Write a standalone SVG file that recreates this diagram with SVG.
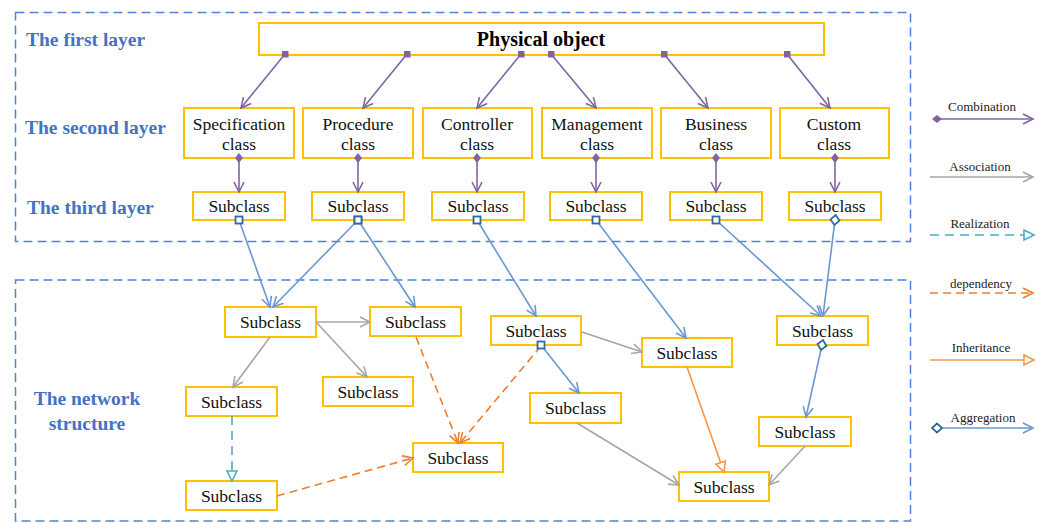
<svg xmlns="http://www.w3.org/2000/svg" width="1042" height="523" viewBox="0 0 1042 523">
  <style>
    .frame { fill: none; stroke: #4A84E0; stroke-width: 1.5; stroke-dasharray: 9 5; }
    .layer { font-family: "Liberation Serif", "Times New Roman", Times, serif; font-weight: bold; font-size: 19.5px; fill: #4472C4; }
    .box { fill: #fff; stroke: #FFC000; stroke-width: 2; }
    .txt { font-family: "Liberation Serif", "Times New Roman", Times, serif; font-size: 17.5px; fill: #111; text-anchor: middle; }
    .title { font-family: "Liberation Serif", "Times New Roman", Times, serif; font-size: 20px; font-weight: bold; fill: #000; text-anchor: middle; }
    .leg { font-family: "Liberation Serif", "Times New Roman", Times, serif; font-size: 13px; fill: #222; text-anchor: middle; }
    .comb { fill: none; stroke: #8064A2; stroke-width: 1.6; }
    .aggr { fill: none; stroke: #6A97D2; stroke-width: 1.6; }
    .assoc { fill: none; stroke: #A6A6A6; stroke-width: 1.6; }
    .real { fill: none; stroke: #4BACC6; stroke-width: 1.6; stroke-dasharray: 9 6; }
    .dep { fill: none; stroke: #ED7D31; stroke-width: 1.6; stroke-dasharray: 8 5; }
    .inh { fill: none; stroke: #F79646; stroke-width: 1.6; }
  </style>
  <defs>
    <marker id="vPurple" markerUnits="userSpaceOnUse" markerWidth="14" markerHeight="14" refX="11" refY="6" orient="auto">
      <path d="M1,1 L11,6 L1,11" fill="none" stroke="#8064A2" stroke-width="1.6"/>
    </marker>
    <marker id="sqPurple" markerUnits="userSpaceOnUse" markerWidth="10" markerHeight="10" refX="3.5" refY="3.5" orient="0">
      <rect x="0" y="0" width="7" height="7" fill="#8064A2"/>
    </marker>
    <marker id="diaPurple" markerUnits="userSpaceOnUse" markerWidth="12" markerHeight="12" refX="5" refY="4" orient="auto">
      <path d="M0,4 L5,0 L10,4 L5,8 Z" fill="#8064A2"/>
    </marker>
    <marker id="vBlue" markerUnits="userSpaceOnUse" markerWidth="14" markerHeight="14" refX="11" refY="6" orient="auto">
      <path d="M1,1 L11,6 L1,11" fill="none" stroke="#6A97D2" stroke-width="1.6"/>
    </marker>
    <marker id="sqBlue" markerUnits="userSpaceOnUse" markerWidth="12" markerHeight="12" refX="5" refY="5" orient="0">
      <rect x="1.5" y="1.5" width="7" height="7" fill="#fff" stroke="#2F6A9E" stroke-width="1.8"/>
    </marker>
    <marker id="diaBlue" markerUnits="userSpaceOnUse" markerWidth="14" markerHeight="14" refX="6" refY="6" orient="auto">
      <path d="M1,6 L6,1.5 L11,6 L6,10.5 Z" fill="#fff" stroke="#2F6A9E" stroke-width="1.8"/>
    </marker>
    <marker id="vGray" markerUnits="userSpaceOnUse" markerWidth="14" markerHeight="14" refX="11" refY="6" orient="auto">
      <path d="M1,1 L11,6 L1,11" fill="none" stroke="#A6A6A6" stroke-width="1.6"/>
    </marker>
    <marker id="triCyan" markerUnits="userSpaceOnUse" markerWidth="14" markerHeight="14" refX="11" refY="6" orient="auto">
      <path d="M1,1 L11,6 L1,11 Z" fill="#fff" stroke="#4BACC6" stroke-width="1.6"/>
    </marker>
    <marker id="vOrange" markerUnits="userSpaceOnUse" markerWidth="14" markerHeight="14" refX="11" refY="6" orient="auto">
      <path d="M1,1 L11,6 L1,11" fill="none" stroke="#ED7D31" stroke-width="1.6"/>
    </marker>
    <marker id="triOrange" markerUnits="userSpaceOnUse" markerWidth="14" markerHeight="14" refX="11" refY="6" orient="auto">
      <path d="M1,1 L11,6 L1,11 Z" fill="#fff" stroke="#F79646" stroke-width="1.6"/>
    </marker>
  </defs>

  <rect width="1042" height="523" fill="#fff"/>

  <!-- layer frames -->
  <g id="frames">
    <rect class="frame" x="15.5" y="12.5" width="895" height="229"/>
    <rect class="frame" x="15.5" y="280" width="895" height="241"/>
  </g>

  <!-- layer captions -->
  <g id="captions">
    <text class="layer" x="26" y="46">The first layer</text>
    <text class="layer" x="25" y="134">The second layer</text>
    <text class="layer" x="27" y="214">The third layer</text>
    <text class="layer" x="87" y="405" text-anchor="middle">The network</text>
    <text class="layer" x="87" y="430" text-anchor="middle">structure</text>
  </g>

  <!-- first layer -->
  <g id="physical">
    <rect class="box" x="259" y="23" width="565" height="32"/>
    <text class="title" x="541" y="46">Physical object</text>
  </g>

  <!-- second layer -->
  <g id="specification">
    <rect class="box" x="184" y="108" width="110" height="50"/>
    <text class="txt" x="239" y="130">Specification</text>
    <text class="txt" x="239" y="150">class</text>
  </g>
  <g id="procedure">
    <rect class="box" x="303" y="108" width="110" height="50"/>
    <text class="txt" x="358" y="130">Procedure</text>
    <text class="txt" x="358" y="150">class</text>
  </g>
  <g id="controller">
    <rect class="box" x="423" y="108" width="109" height="50"/>
    <text class="txt" x="477" y="130">Controller</text>
    <text class="txt" x="477" y="150">class</text>
  </g>
  <g id="management">
    <rect class="box" x="542" y="108" width="110" height="50"/>
    <text class="txt" x="597" y="130">Management</text>
    <text class="txt" x="597" y="150">class</text>
  </g>
  <g id="business">
    <rect class="box" x="661" y="108" width="110" height="50"/>
    <text class="txt" x="716" y="130">Business</text>
    <text class="txt" x="716" y="150">class</text>
  </g>
  <g id="custom">
    <rect class="box" x="780" y="108" width="109" height="50"/>
    <text class="txt" x="834" y="130">Custom</text>
    <text class="txt" x="834" y="150">class</text>
  </g>

  <!-- third layer -->
  <g id="sub-specification">
    <rect class="box" x="193" y="192" width="92" height="28"/>
    <text class="txt" x="239" y="212">Subclass</text>
  </g>
  <g id="sub-procedure">
    <rect class="box" x="312" y="192" width="92" height="28"/>
    <text class="txt" x="358" y="212">Subclass</text>
  </g>
  <g id="sub-controller">
    <rect class="box" x="432" y="192" width="92" height="28"/>
    <text class="txt" x="478" y="212">Subclass</text>
  </g>
  <g id="sub-management">
    <rect class="box" x="550" y="192" width="92" height="28"/>
    <text class="txt" x="596" y="212">Subclass</text>
  </g>
  <g id="sub-business">
    <rect class="box" x="670" y="192" width="92" height="28"/>
    <text class="txt" x="716" y="212">Subclass</text>
  </g>
  <g id="sub-custom">
    <rect class="box" x="789" y="192" width="92" height="28"/>
    <text class="txt" x="835" y="212">Subclass</text>
  </g>

  <!-- network structure -->
  <g id="net-1">
    <rect class="box" x="225" y="307" width="91" height="30"/>
    <text class="txt" x="270.5" y="328">Subclass</text>
  </g>
  <g id="net-2">
    <rect class="box" x="370" y="307" width="91" height="29"/>
    <text class="txt" x="415.5" y="328">Subclass</text>
  </g>
  <g id="net-3">
    <rect class="box" x="323" y="377" width="90" height="29"/>
    <text class="txt" x="368" y="398">Subclass</text>
  </g>
  <g id="net-4">
    <rect class="box" x="186" y="387" width="91" height="29"/>
    <text class="txt" x="231.5" y="408">Subclass</text>
  </g>
  <g id="net-5">
    <rect class="box" x="186" y="481" width="91" height="29"/>
    <text class="txt" x="231.5" y="502">Subclass</text>
  </g>
  <g id="net-6">
    <rect class="box" x="413" y="443" width="90" height="29"/>
    <text class="txt" x="458" y="464">Subclass</text>
  </g>
  <g id="net-7">
    <rect class="box" x="491" y="316" width="90" height="29"/>
    <text class="txt" x="536" y="337">Subclass</text>
  </g>
  <g id="net-8">
    <rect class="box" x="642" y="338" width="90" height="29"/>
    <text class="txt" x="687" y="359">Subclass</text>
  </g>
  <g id="net-9">
    <rect class="box" x="777" y="316" width="91" height="29"/>
    <text class="txt" x="822.5" y="337">Subclass</text>
  </g>
  <g id="net-10">
    <rect class="box" x="530" y="393" width="91" height="30"/>
    <text class="txt" x="575.5" y="414">Subclass</text>
  </g>
  <g id="net-11">
    <rect class="box" x="759" y="417" width="92" height="29"/>
    <text class="txt" x="805" y="438">Subclass</text>
  </g>
  <g id="net-12">
    <rect class="box" x="679" y="472" width="90" height="29"/>
    <text class="txt" x="724" y="493">Subclass</text>
  </g>

  <!-- connectors, drawn after the boxes so end symbols sit on the box edges -->
  <g id="connectors">
    <!-- first layer to second layer -->
    <path class="comb" d="M285,54 L241,108" marker-start="url(#sqPurple)" marker-end="url(#vPurple)"/>
    <path class="comb" d="M407,54 L363,108" marker-start="url(#sqPurple)" marker-end="url(#vPurple)"/>
    <path class="comb" d="M521,54 L477,108" marker-start="url(#sqPurple)" marker-end="url(#vPurple)"/>
    <path class="comb" d="M551,54 L596,108" marker-start="url(#sqPurple)" marker-end="url(#vPurple)"/>
    <path class="comb" d="M664,54 L708,108" marker-start="url(#sqPurple)" marker-end="url(#vPurple)"/>
    <path class="comb" d="M787,54 L830,108" marker-start="url(#sqPurple)" marker-end="url(#vPurple)"/>
    <!-- second layer to third layer -->
    <path class="comb" d="M239,158 L239,192" marker-start="url(#diaPurple)" marker-end="url(#vPurple)"/>
    <path class="comb" d="M358,158 L358,192" marker-start="url(#diaPurple)" marker-end="url(#vPurple)"/>
    <path class="comb" d="M477,158 L477,192" marker-start="url(#diaPurple)" marker-end="url(#vPurple)"/>
    <path class="comb" d="M596,158 L596,192" marker-start="url(#diaPurple)" marker-end="url(#vPurple)"/>
    <path class="comb" d="M716,158 L716,192" marker-start="url(#diaPurple)" marker-end="url(#vPurple)"/>
    <path class="comb" d="M835,158 L835,192" marker-start="url(#diaPurple)" marker-end="url(#vPurple)"/>
    <!-- third layer to network -->
    <path class="aggr" d="M239,220 L270,307" marker-start="url(#sqBlue)" marker-end="url(#vBlue)"/>
    <path class="aggr" d="M358,220 L273,307" marker-start="url(#sqBlue)" marker-end="url(#vBlue)"/>
    <path class="aggr" d="M358,220 L415,307" marker-start="url(#sqBlue)" marker-end="url(#vBlue)"/>
    <path class="aggr" d="M477,220 L536,316" marker-start="url(#sqBlue)" marker-end="url(#vBlue)"/>
    <path class="aggr" d="M596,220 L686,338" marker-start="url(#sqBlue)" marker-end="url(#vBlue)"/>
    <path class="aggr" d="M716,220 L821,316" marker-start="url(#sqBlue)" marker-end="url(#vBlue)"/>
    <path class="aggr" d="M835,220 L823,316" marker-start="url(#diaBlue)" marker-end="url(#vBlue)"/>
    <!-- network -->
    <path class="assoc" d="M316,322 L370,322" marker-end="url(#vGray)"/>
    <path class="assoc" d="M317,323 L367,377" marker-end="url(#vGray)"/>
    <path class="assoc" d="M270,337 L233,387" marker-end="url(#vGray)"/>
    <path class="real" d="M232,416 L232,481" marker-end="url(#triCyan)"/>
    <path class="dep" d="M277,496 L413,458" marker-end="url(#vOrange)"/>
    <path class="dep" d="M416,337 L458,443" marker-end="url(#vOrange)"/>
    <path class="dep" d="M541,346 L460,443" marker-end="url(#vOrange)"/>
    <path class="aggr" d="M541,345 L579,393" marker-start="url(#sqBlue)" marker-end="url(#vBlue)"/>
    <path class="assoc" d="M582,332 L642,352" marker-end="url(#vGray)"/>
    <path class="assoc" d="M577,423 L679,485" marker-end="url(#vGray)"/>
    <path class="inh" d="M687,367 L724,472" marker-end="url(#triOrange)"/>
    <path class="aggr" d="M822,345 L806,417" marker-start="url(#diaBlue)" marker-end="url(#vBlue)"/>
    <path class="assoc" d="M805,446 L769,485" marker-end="url(#vGray)"/>
  </g>

  <!-- legend -->
  <g id="legend">
    <text class="leg" x="982" y="111">Combination</text>
    <path class="comb" d="M937,119 L1033,119" marker-start="url(#diaPurple)" marker-end="url(#vPurple)"/>
    <text class="leg" x="980" y="171">Association</text>
    <path class="assoc" d="M930,177 L1033,177" marker-end="url(#vGray)"/>
    <text class="leg" x="980" y="228">Realization</text>
    <path class="real" d="M930,235 L1034,235" marker-end="url(#triCyan)"/>
    <text class="leg" x="981" y="288">dependency</text>
    <path class="dep" d="M930,293 L1033,293" marker-end="url(#vOrange)"/>
    <text class="leg" x="981" y="352">Inheritance</text>
    <path class="inh" d="M930,360 L1034,360" marker-end="url(#triOrange)"/>
    <text class="leg" x="983" y="422">Aggregation</text>
    <path class="aggr" d="M937,428 L1033,428" marker-start="url(#diaBlue)" marker-end="url(#vBlue)"/>
  </g>
</svg>
